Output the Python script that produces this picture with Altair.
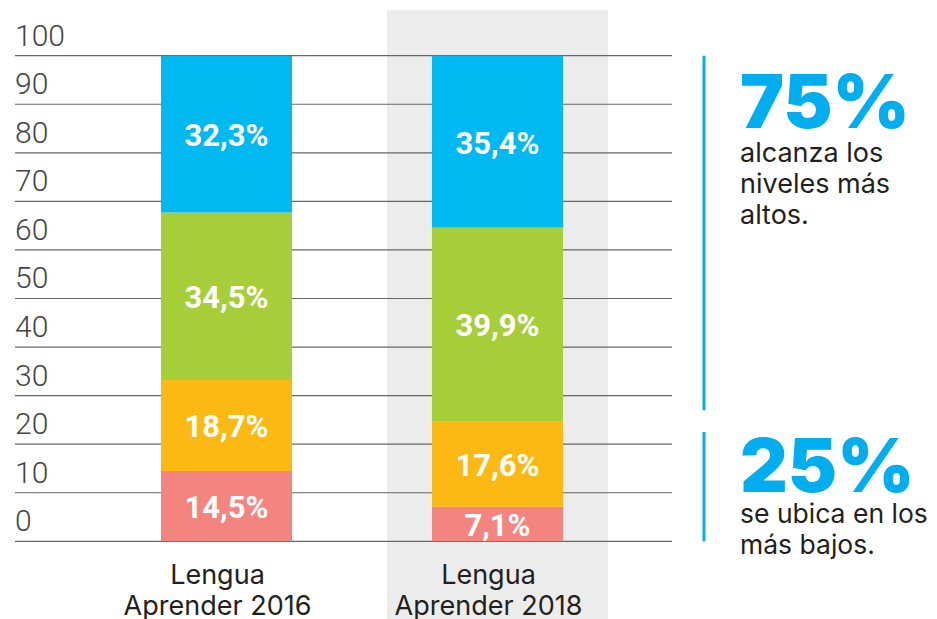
import altair as alt
import pandas as pd

# ---- data ----
subject = "Lengua"
categories = ["Aprender 2016", "Aprender 2018"]
highlight = ["Aprender 2018"]
levels = ["Por debajo del básico", "Básico", "Satisfactorio", "Avanzado"]
values_2016 = [14.5, 18.7, 34.5, 32.3]
values_2018 = [7.1, 17.6, 39.9, 35.4]
level_colors = ["#f3847f", "#fdb913", "#a6ce39", "#00b9f1"]
y_ticks = [0, 10, 20, 30, 40, 50, 60, 70, 80, 90, 100]
big_top, caption_top = "75%", ["alcanza los", "niveles más", "altos."]
big_bottom, caption_bottom = "25%", ["se ubica en los", "más bajos."]

rows = []
for cat, vals in zip(categories, [values_2016, values_2018]):
    for i, (lvl, v) in enumerate(zip(levels, vals)):
        rows.append({"cat": cat, "level": lvl, "order": i, "value": v})
df = pd.DataFrame(rows)
df_ticks = pd.DataFrame({"t": y_ticks})
df_band = pd.DataFrame({"cat": highlight})
one = pd.DataFrame({"k": [0]})

# ---- styling ----
W, H = 657, 609
BLUE = "#00aeef"
TXT = "#231f20"
COND = "Roboto, DejaVu Sans Condensed, sans-serif"
SANS = "Inter, DejaVu Sans, sans-serif"

xscale = alt.Scale(domain=categories, paddingInner=0.1845, paddingOuter=0.3044, align=0.612)
yscale = alt.Scale(domain=[-16.0, 109.41], nice=False, zero=False)
xaxis = alt.Axis(orient="bottom", offset=-36, domain=False, ticks=False, tickSize=0,
                 labelPadding=0, labelAngle=0, labelOffset=-9, labelFont=SANS, labelFontSize=27,
                 labelColor=TXT, labelLineHeight=31, labelBaseline="alphabetic", labelLimit=0,
                 labelExpr=f"['{subject}', datum.label]", title=None, grid=False)
X = alt.X("cat:N", scale=xscale, axis=xaxis)

band = alt.Chart(df_band).mark_rect(color="#ececec").encode(
    x=X, y=alt.value(0), y2=alt.value("height"))

grid = alt.Chart(df_ticks).mark_rule(color="#666666", strokeWidth=1.2).encode(
    y=alt.Y("t:Q", scale=yscale, axis=None))

ticklabels = alt.Chart(df_ticks).mark_text(
    align="left", baseline="alphabetic", dy=-10, font=COND, fontSize=30,
    fontWeight=300, color="#444444").encode(
    x=alt.value(0), y=alt.Y("t:Q", scale=yscale, axis=None), text="t:Q")

bars = alt.Chart(df).mark_bar(width=alt.RelativeBandSize(0.593)).encode(
    x=X,
    y=alt.Y("value:Q", stack="zero", scale=yscale, axis=None),
    color=alt.Color("level:N", scale=alt.Scale(domain=levels, range=level_colors), legend=None),
    order=alt.Order("order:Q"),
)

barlabels = alt.Chart(df).transform_stack(
    stack="value", groupby=["cat"], sort=[alt.SortField("order", "ascending")], as_=["y0", "y1"]
).transform_calculate(
    mid="(datum.y0 + datum.y1) / 2",
    label="replace(format(datum.value, '.1f'), '.', ',') + '%'",
).mark_text(font=COND, fontSize=31, fontWeight="bold", color="white",
            baseline="middle", align="center", dy=3).encode(
    x=X, y=alt.Y("mid:Q", scale=yscale, axis=None), text="label:N")

rule_top = alt.Chart(one).mark_rule(color=BLUE, strokeWidth=3).encode(
    x=alt.value(689), y=alt.datum(100, scale=yscale), y2=alt.datum(27))
rule_bot = alt.Chart(one).mark_rule(color=BLUE, strokeWidth=3).encode(
    x=alt.value(689), y=alt.datum(22.5, scale=yscale), y2=alt.datum(0))

big1 = alt.Chart(one).mark_text(text=big_top, align="left", baseline="alphabetic",
                                font=SANS, fontSize=74, fontWeight=900, color=BLUE).encode(
    x=alt.value(725), y=alt.value(118))
cap1 = alt.Chart(one).mark_text(text=caption_top, align="left", baseline="alphabetic",
                                font=SANS, fontSize=27, lineHeight=31, color=TXT).encode(
    x=alt.value(725), y=alt.value(152))
big2 = alt.Chart(one).mark_text(text=big_bottom, align="left", baseline="alphabetic",
                                font=SANS, fontSize=74, fontWeight=900, color=BLUE).encode(
    x=alt.value(725), y=alt.value(482))
cap2 = alt.Chart(one).mark_text(text=caption_bottom, align="left", baseline="alphabetic",
                                font=SANS, fontSize=26.5, lineHeight=31, color=TXT).encode(
    x=alt.value(725), y=alt.value(513))

chart = alt.layer(
    band, grid, bars, barlabels, ticklabels, rule_top, rule_bot, big1, cap1, big2, cap2
).properties(
    width=W, height=H,
    padding={"left": 7, "top": 2, "right": 257, "bottom": 0},
    autosize=alt.AutoSizeParams(type="none"),
    background="white",
).configure_view(stroke=None)

chart.save("out.html", embed_options={"renderer": "svg", "actions": False})
